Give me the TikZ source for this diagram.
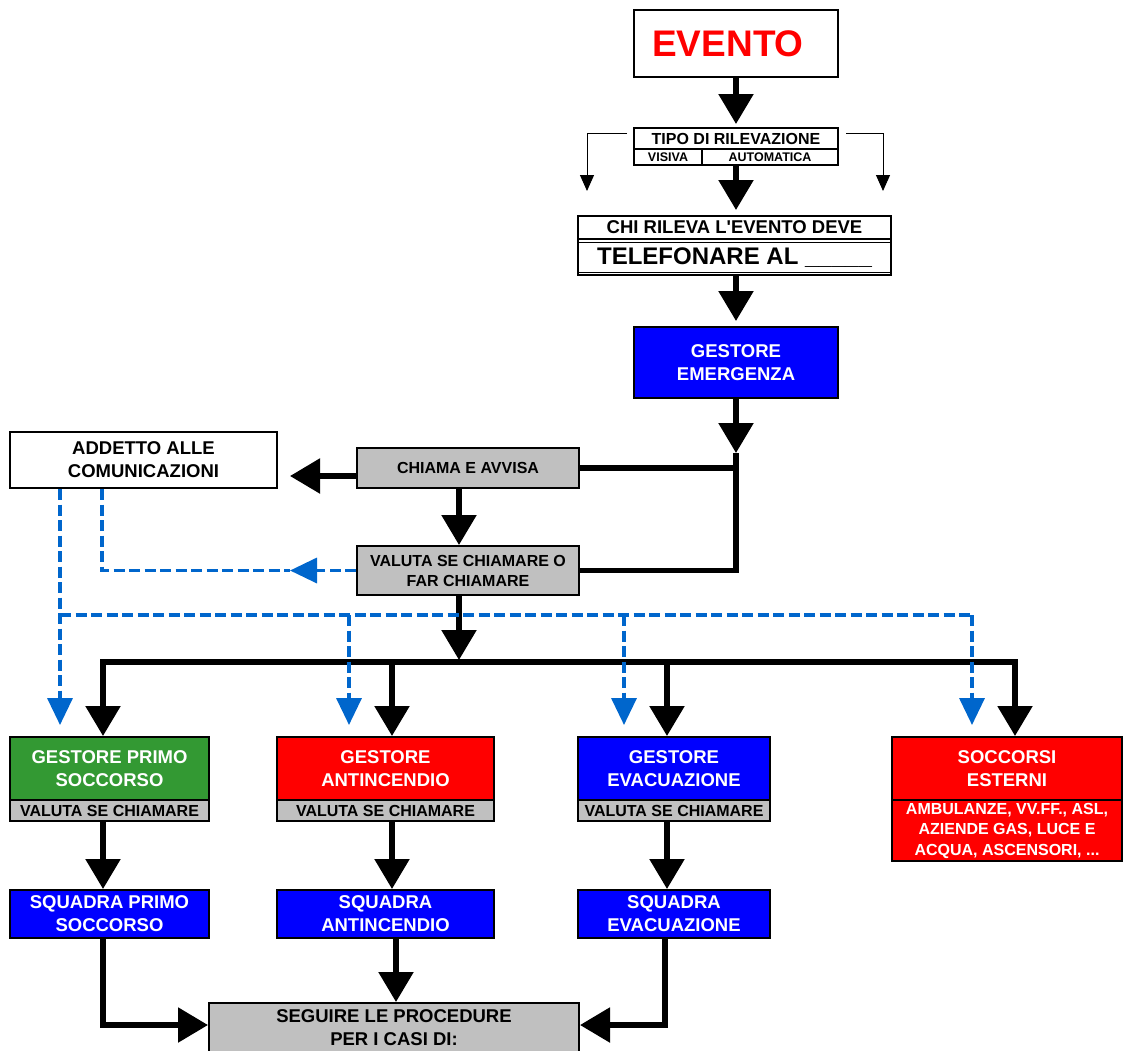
\documentclass[tikz,border=0pt]{standalone}
\usepackage{fontspec}
\setmainfont{Liberation Sans}
\usetikzlibrary{arrows.meta}
\definecolor{boxblue}{RGB}{0,0,255}
\definecolor{boxred}{RGB}{255,0,0}
\definecolor{boxgreen}{RGB}{51,153,51}
\definecolor{boxgray}{RGB}{192,192,192}
\definecolor{dashblue}{RGB}{0,102,204}

\begin{document}
\begin{tikzpicture}[x=1pt, y=-1pt]
	\tikzstyle{box} = [draw, line width=2pt, inner sep=0pt, align=center, font=\bfseries\fontsize{18.5}{23}\selectfont]
	\tikzstyle{graybox} = [box, fill=boxgray, font=\bfseries\fontsize{16}{20}\selectfont]
	\tikzstyle{bluebox} = [box, fill=boxblue, text=white]
	\tikzstyle{redbox} = [box, fill=boxred, text=white]
	\tikzstyle{greenbox} = [box, fill=boxgreen, text=white]
	\tikzstyle{thickline} = [line width=5.5pt]
	\tikzstyle{bigarrow} = [thickline, -{Triangle[length=30pt, width=34pt]}]
	\tikzstyle{thinarrow} = [line width=1pt, -{Triangle[length=16pt, width=14pt]}]
	\tikzstyle{blueline} = [dashblue, line width=3.5pt, dash pattern=on 11pt off 4.5pt]
	\tikzstyle{bluearrow} = [blueline, -{Triangle[length=27pt, width=25pt]}]
	\useasboundingbox (0,0) rectangle (1123,1050);
	\clip (0,0) rectangle (1123,1050);
	% top column
	\node[box, minimum width=204pt, minimum height=67pt, text=boxred, font=\bfseries\fontsize{37}{44}\selectfont] (evento) at (736,43.5) {EVENTO\hspace*{16pt}};
	\node[box, minimum width=204pt, minimum height=21pt, font=\bfseries\fontsize{16}{19}\selectfont] (tipo) at (736,138.5) {TIPO DI RILEVAZIONE};
	\node[box, minimum width=68pt, minimum height=16pt, font=\bfseries\fontsize{12.5}{15}\selectfont] (visiva) at (668,157) {VISIVA};
	\node[box, minimum width=136pt, minimum height=16pt, font=\bfseries\fontsize{12.5}{15}\selectfont] (automatica) at (770,157) {AUTOMATICA};
	\node[box, minimum width=313pt, minimum height=59pt] (chi) at (734.5,245.5) {};
	\node[box, line width=1.5pt, minimum width=313pt, minimum height=23pt] (chitop) at (734.5,227.5) {CHI RILEVA L\textquotesingle EVENTO DEVE};
	\node[box, line width=1.5pt, minimum width=313pt, minimum height=30pt, font=\bfseries\fontsize{24}{28}\selectfont] (chibot) at (734.5,257.5) {TELEFONARE AL \_\_\_\_\_};
	\node[bluebox, minimum width=204pt, minimum height=71pt] (gem) at (736,362.5) {GESTORE\\EMERGENZA};
	% middle
	\node[box, fill=white, minimum width=267pt, minimum height=56pt] (addetto) at (143.5,460) {ADDETTO ALLE\\COMUNICAZIONI};
	\node[graybox, minimum width=222pt, minimum height=40pt] (chiama) at (468,468) {CHIAMA E AVVISA};
	\node[graybox, minimum width=222pt, minimum height=49pt] (valuta) at (468,570.5) {VALUTA SE CHIAMARE O\\FAR CHIAMARE};
	% gestori
	\node[greenbox, minimum width=199pt, minimum height=63pt] (gps) at (109.5,768.5) {GESTORE PRIMO\\SOCCORSO};
	\node[graybox, minimum width=199pt, minimum height=21pt] (gpsv) at (109.5,810.5) {VALUTA SE CHIAMARE};
	\node[redbox, minimum width=217pt, minimum height=63pt] (gan) at (385.5,768.5) {GESTORE\\ANTINCENDIO};
	\node[graybox, minimum width=217pt, minimum height=21pt] (ganv) at (385.5,810.5) {VALUTA SE CHIAMARE};
	\node[bluebox, minimum width=192pt, minimum height=63pt] (gev) at (674,768.5) {GESTORE\\EVACUAZIONE};
	\node[graybox, minimum width=192pt, minimum height=21pt] (gevv) at (674,810.5) {VALUTA SE CHIAMARE};
	\node[redbox, minimum width=230pt, minimum height=63pt] (sest) at (1007,768.5) {SOCCORSI\\ESTERNI};
	\node[redbox, minimum width=230pt, minimum height=61pt, font=\bfseries\fontsize{16}{20.5}\selectfont] (sestv) at (1007,830.5) {AMBULANZE, VV.FF., ASL,\\AZIENDE GAS, LUCE E\\ACQUA, ASCENSORI, ...};
	% squadre
	\node[bluebox, minimum width=199pt, minimum height=48pt] (sqps) at (109.5,914) {SQUADRA PRIMO\\SOCCORSO};
	\node[bluebox, minimum width=217pt, minimum height=48pt] (sqan) at (385.5,914) {SQUADRA\\ANTINCENDIO};
	\node[bluebox, minimum width=192pt, minimum height=48pt] (sqev) at (674,914) {SQUADRA\\EVACUAZIONE};
	\node[graybox, minimum width=370pt, minimum height=50pt, font=\bfseries\fontsize{18.5}{23}\selectfont] (seguire) at (394,1028) {SEGUIRE LE PROCEDURE\\PER I CASI DI:};
	% junctions
	\coordinate (j1) at (736,453);
	\coordinate (j2) at (459,660);
	\coordinate (a1) at (290,476);
	\coordinate (b1) at (290,570.5);
	\coordinate (t1) at (103,662);
	\coordinate (t2) at (392,662);
	\coordinate (t3) at (667,662);
	\coordinate (t4) at (1015,662);
	\coordinate (bl) at (60,615);
	\coordinate (b2) at (349,615);
	\coordinate (b3) at (624,615);
	\coordinate (br) at (972,615);
	% black connectors
	\draw[bigarrow, shorten >=3pt] (evento) -- (tipo);
	\draw[thinarrow] ([xshift=-6pt,yshift=5pt]tipo.west) -| ([xshift=10pt,yshift=24pt]chi.north west);
	\draw[thinarrow] ([xshift=7pt,yshift=5pt]tipo.east) -| ([xshift=-9pt,yshift=24pt]chi.north east);
	\draw[bigarrow, shorten >=5pt] (tipo.south |- automatica.south) -- (tipo.south |- chi.north);
	\draw[bigarrow, shorten >=5pt] (gem.north |- chi.south) -- (gem.north);
	\draw[bigarrow] (gem) -- (j1);
	\draw[thickline] (j1) |- (valuta.east);
	\draw[thickline] (chiama.east) -- (chiama.east -| j1);
	\draw[bigarrow] ([yshift=-8pt]chiama.west) -- (a1);
	\draw[bigarrow] ([xshift=-9pt]chiama.south) -- ([xshift=-9pt]valuta.north);
	\draw[bigarrow] ([xshift=-9pt]valuta.south) -- (j2);
	\draw[thickline, line cap=rect] (t1) -- (t4);
	\draw[bigarrow] (t1) -- (t1 |- gps.north);
	\draw[bigarrow] (t2) -- (t2 |- gan.north);
	\draw[bigarrow] (t3) -- (t3 |- gev.north);
	\draw[bigarrow] (t4) -- (t4 |- sest.north);
	\draw[bigarrow] ([xshift=-6.5pt]gpsv.south) -- ([xshift=-6.5pt]sqps.north);
	\draw[bigarrow] ([xshift=6.5pt]ganv.south) -- ([xshift=6.5pt]sqan.north);
	\draw[bigarrow] ([xshift=-7pt]gevv.south) -- ([xshift=-7pt]sqev.north);
	\draw[bigarrow] ([xshift=10.5pt]sqan.south) -- ([xshift=2pt]seguire.north);
	\draw[bigarrow] ([xshift=-6.5pt]sqps.south) |- ([yshift=3pt]seguire.west);
	\draw[bigarrow] ([xshift=-9pt]sqev.south) |- ([yshift=3pt]seguire.east);
	% blue dashed connectors
	\draw[bluearrow] (valuta.west) -- (b1);
	\draw[blueline] ([xshift=-41.5pt]addetto.south) |- (b1);
	\draw[bluearrow, shorten >=11pt] ([xshift=-83.5pt]addetto.south) -- (bl |- gps.north);
	\draw[blueline] (bl) -- (br);
	\draw[bluearrow, shorten >=11pt] (b2) -- (b2 |- gan.north);
	\draw[bluearrow, shorten >=11pt] (b3) -- (b3 |- gev.north);
	\draw[bluearrow, shorten >=11pt] (br) -- (br |- sest.north);
\end{tikzpicture}
\end{document}
